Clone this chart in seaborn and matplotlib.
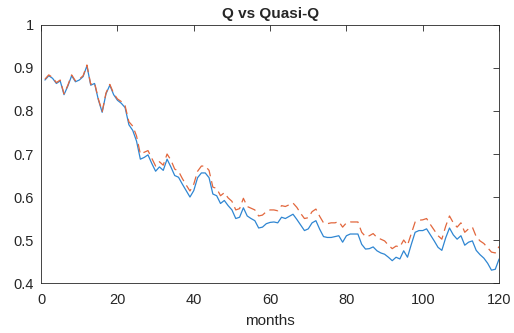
import numpy as np
import pandas as pd
import matplotlib
matplotlib.use('Agg')
import matplotlib.pyplot as plt
import seaborn as sns

# values, months 1..120
months = list(range(1, 121))

q_vals = [
    0.872, 0.882, 0.876, 0.864, 0.870, 0.838, 0.858, 0.882, 0.868, 0.872,
    0.880, 0.905, 0.860, 0.864, 0.826, 0.797, 0.840, 0.860, 0.838, 0.825,
    0.818, 0.808, 0.768, 0.755, 0.730, 0.688, 0.692, 0.698, 0.678, 0.660,
    0.670, 0.662, 0.688, 0.670, 0.650, 0.646, 0.630, 0.615, 0.600, 0.615,
    0.645, 0.656, 0.656, 0.645, 0.607, 0.603, 0.585, 0.592, 0.580, 0.570,
    0.550, 0.553, 0.575, 0.556, 0.550, 0.545, 0.528, 0.530, 0.538, 0.541,
    0.542, 0.540, 0.553, 0.550, 0.555, 0.560, 0.548, 0.535, 0.522, 0.526,
    0.540, 0.545, 0.525, 0.508, 0.506, 0.506, 0.508, 0.510, 0.495, 0.510,
    0.514, 0.514, 0.514, 0.490, 0.479, 0.480, 0.484, 0.475, 0.470, 0.467,
    0.460, 0.452, 0.460, 0.456, 0.475, 0.460, 0.490, 0.518, 0.522, 0.522,
    0.526, 0.512, 0.498, 0.483, 0.476, 0.505, 0.528, 0.512, 0.502, 0.510,
    0.488, 0.495, 0.498, 0.476, 0.466, 0.458, 0.446, 0.430, 0.432, 0.456,
]

quasi_vals = [
    0.874, 0.884, 0.878, 0.866, 0.872, 0.840, 0.860, 0.884, 0.870, 0.874,
    0.882, 0.907, 0.862, 0.866, 0.828, 0.799, 0.842, 0.862, 0.841, 0.828,
    0.822, 0.812, 0.775, 0.765, 0.742, 0.700, 0.704, 0.708, 0.690, 0.672,
    0.682, 0.674, 0.700, 0.686, 0.665, 0.660, 0.643, 0.628, 0.614, 0.630,
    0.660, 0.672, 0.672, 0.662, 0.623, 0.620, 0.603, 0.610, 0.598, 0.590,
    0.570, 0.573, 0.597, 0.578, 0.574, 0.570, 0.556, 0.558, 0.566, 0.570,
    0.570, 0.568, 0.580, 0.578, 0.582, 0.586, 0.576, 0.562, 0.550, 0.552,
    0.566, 0.572, 0.555, 0.540, 0.538, 0.540, 0.540, 0.543, 0.530, 0.540,
    0.542, 0.542, 0.542, 0.518, 0.508, 0.510, 0.515, 0.506, 0.502, 0.498,
    0.488, 0.480, 0.486, 0.484, 0.500, 0.488, 0.515, 0.542, 0.546, 0.547,
    0.550, 0.536, 0.523, 0.510, 0.502, 0.532, 0.556, 0.540, 0.530, 0.540,
    0.518, 0.526, 0.530, 0.508, 0.498, 0.492, 0.482, 0.472, 0.470, 0.485,
]

x_ticks = [0, 20, 40, 60, 80, 100, 120]
y_ticks = [0.4, 0.5, 0.6, 0.7, 0.8, 0.9, 1.0]
y_labels = ['0.4', '0.5', '0.6', '0.7', '0.8', '0.9', '1']

df = pd.DataFrame({'months': months, 'Q': q_vals, 'Quasi-Q': quasi_vals})

sns.set_style('white')
plt.rcParams['font.family'] = ['Liberation Sans', 'DejaVu Sans']

fig = plt.figure(figsize=(5.14, 3.33), dpi=100)
ax = fig.add_axes([0.080, 0.150, 0.891, 0.775])

sns.lineplot(data=df, x='months', y='Q', color='#2f86d2', lw=0.9, ax=ax)
sns.lineplot(data=df, x='months', y='Quasi-Q', color='#e2673d', lw=0.9,
             linestyle=(0, (7, 4)), ax=ax)

ax.set_xlim(0, 120)
ax.set_ylim(0.4, 1.0)
ax.set_xticks(x_ticks)
ax.set_yticks(y_ticks)
ax.set_yticklabels(y_labels)
ax.set_xlabel('months', fontsize=11, labelpad=5)
ax.set_ylabel('')
ax.set_title('Q vs Quasi-Q', fontsize=11, fontweight='bold', pad=5)

ax.tick_params(direction='in', top=True, right=True, length=4, width=0.6,
               color='#262626', labelsize=10.5, labelcolor='#262626')
ax.tick_params(axis='x', pad=7)
ax.tick_params(axis='y', pad=5)
for s in ax.spines.values():
    s.set_linewidth(0.6)
    s.set_color('#262626')

fig.savefig('out.png', dpi=100)
